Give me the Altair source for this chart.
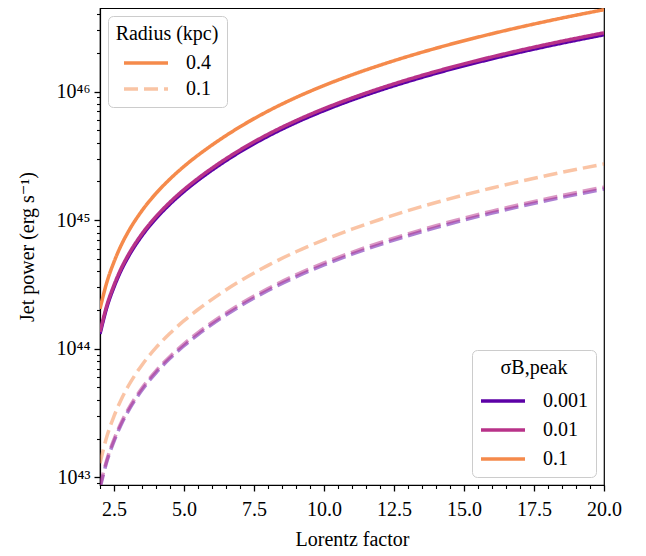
import altair as alt
import pandas as pd

# Lorentz factor grid (x values)
gamma = [2.0, 2.25, 2.5, 2.75, 3.0, 3.5, 4.0, 4.5, 5.0, 5.5, 6.0, 7.0, 8.0, 9.0, 10.0, 11.0, 12.0, 14.0, 16.0, 18.0, 20.0]

# log10 of jet power (erg s^-1)
r04_s01 = [44.31, 44.521, 44.675, 44.802, 44.906, 45.074, 45.208, 45.320, 45.418, 45.505, 45.584, 45.726, 45.848, 45.954, 46.047, 46.130, 46.205, 46.337, 46.450, 46.549, 46.637]
r04_s001 = [44.13, 44.341, 44.495, 44.622, 44.726, 44.894, 45.028, 45.140, 45.238, 45.325, 45.404, 45.546, 45.668, 45.774, 45.867, 45.950, 46.025, 46.157, 46.270, 46.369, 46.457]
r04_s0001 = [44.115, 44.326, 44.480, 44.607, 44.711, 44.879, 45.013, 45.125, 45.223, 45.310, 45.389, 45.531, 45.653, 45.759, 45.852, 45.935, 46.010, 46.142, 46.255, 46.354, 46.442]
r01_s01 = [43.11, 43.321, 43.475, 43.602, 43.706, 43.874, 44.008, 44.120, 44.218, 44.305, 44.384, 44.526, 44.648, 44.754, 44.847, 44.930, 45.005, 45.137, 45.250, 45.349, 45.437]
r01_s001 = [42.93, 43.141, 43.295, 43.422, 43.526, 43.694, 43.828, 43.940, 44.038, 44.125, 44.204, 44.346, 44.468, 44.574, 44.667, 44.750, 44.825, 44.957, 45.070, 45.169, 45.257]
r01_s0001 = [42.915, 43.126, 43.280, 43.407, 43.511, 43.679, 43.813, 43.925, 44.023, 44.110, 44.189, 44.331, 44.453, 44.559, 44.652, 44.735, 44.810, 44.942, 45.055, 45.154, 45.242]

sigma_labels = ["0.001", "0.01", "0.1"]
radius_labels = ["0.4", "0.1"]
sigma_colors = ["#5c01a6", "#b83289", "#f58a4b"]

x_major = [2.5, 5.0, 7.5, 10.0, 12.5, 15.0, 17.5, 20.0]
x_ticks = [2.0 + 0.5 * i for i in range(37)]
x_minor = [v for v in x_ticks if v not in x_major]
y_major = [1e43, 1e44, 1e45, 1e46]
y_major_labels = ["10⁴³", "10⁴⁴", "10⁴⁵", "10⁴⁶"]
y_minor = [k * 10.0 ** n for n in range(42, 47) for k in range(2, 10)]
y_minor = [v for v in y_minor if 10 ** 42.94 <= v <= 10 ** 46.65]

series = [
    ("0.4", "0.001", r04_s0001),
    ("0.4", "0.01", r04_s001),
    ("0.4", "0.1", r04_s01),
    ("0.1", "0.001", r01_s0001),
    ("0.1", "0.01", r01_s001),
    ("0.1", "0.1", r01_s01),
]
rows = []
for i, (rad, sig, vals) in enumerate(series):
    for g, v in zip(gamma, vals):
        rows.append({"gamma": g, "P": 10 ** v, "R": rad, "sigma": sig, "series": i})
df = pd.DataFrame(rows)

FONT = "'Liberation Serif', 'Times New Roman', 'DejaVu Serif', serif"
y_domain = [10 ** 42.94, 10 ** 46.65]

y_label_expr = " : ".join(
    f"datum.value < {v * 3:.0e} ? '{lab}'" for v, lab in zip(y_major[:-1], y_major_labels[:-1])
) + f" : '{y_major_labels[-1]}'"

xscale = alt.Scale(domain=[2, 20], nice=False, zero=False)
yscale = alt.Scale(type="log", domain=y_domain, nice=False)

radius_legend = alt.Legend(
    title="Radius (kpc)", orient="top-left", offset=8,
    symbolType="M-2,0H2", symbolSize=484, symbolStrokeWidth=3.5,
    symbolStrokeColor="#f58a4b", symbolOffset=10, labelOffset=27,
    rowPadding=3, titlePadding=6, padding=8,
    strokeColor="#cccccc", fillColor="white", cornerRadius=5,
    titleAnchor="middle",
)
sigma_legend = alt.Legend(
    title="σB,peak", orient="bottom-right", offset=8,
    symbolType="M-2,0H2", symbolSize=484, symbolStrokeWidth=3.5,
    symbolOffset=10, labelOffset=27, symbolOpacity=1,
    rowPadding=6, titlePadding=10, padding=8,
    strokeColor="#cccccc", fillColor="white", cornerRadius=5,
    titleAnchor="middle",
)

lines = alt.Chart(df).mark_line(strokeWidth=3.5, clip=True, interpolate="monotone").encode(
    x=alt.X("gamma:Q", scale=xscale, title="Lorentz factor",
            axis=alt.Axis(values=x_major, format=".1f", labelFlush=False, grid=False,
                          ticks=True, tickSize=6, tickColor="black", tickWidth=1.3,
                          labelPadding=8, titlePadding=10)),
    y=alt.Y("P:Q", scale=yscale, title="Jet power (erg s⁻¹)",
            axis=alt.Axis(values=y_major, labelExpr=y_label_expr, grid=False, titlePadding=19,
                          ticks=True, tickSize=6, tickColor="black", tickWidth=1.3,
                          labelPadding=4)),
    color=alt.Color("sigma:N", scale=alt.Scale(domain=sigma_labels, range=sigma_colors), legend=sigma_legend),
    strokeDash=alt.StrokeDash("R:N", scale=alt.Scale(domain=radius_labels, range=[[1, 0], [14, 6]]), legend=radius_legend),
    opacity=alt.Opacity("R:N", scale=alt.Scale(domain=radius_labels, range=[1.0, 0.5]), legend=radius_legend),
    detail="series:N",
)

# second, invisible layer that only carries the minor-tick axes
minor = alt.Chart(df).mark_point(opacity=0).encode(
    x=alt.X("gamma:Q", scale=xscale, title=None,
            axis=alt.Axis(values=x_minor, labels=False, ticks=True, tickSize=3.5, tickColor="black",
                          tickWidth=1.1, grid=False, domain=False, orient="bottom", title=None)),
    y=alt.Y("P:Q", scale=yscale, title=None,
            axis=alt.Axis(values=y_minor, labels=False, ticks=True, tickSize=3.5, tickColor="black",
                          tickWidth=1.1, grid=False, domain=False, orient="left", title=None)),
)

chart = alt.layer(lines, minor).resolve_axis(x="independent", y="independent").properties(
    width=504, height=477,
    autosize=alt.AutoSizeParams(type="none"),
    padding={"left": 92, "top": 0, "right": 34, "bottom": 70},
).configure_view(stroke="black", strokeWidth=1.2).configure_axis(
    labelFont=FONT, titleFont=FONT, labelFontSize=20, titleFontSize=20,
    titleFontWeight="normal", labelColor="black", titleColor="black",
    domainColor="black", domainWidth=1.2,
).configure_legend(
    labelFont=FONT, titleFont=FONT, labelFontSize=20, titleFontSize=20,
    titleFontWeight="normal", labelColor="black", titleColor="black",
)

chart.save("out.html", embed_options={"renderer": "svg", "actions": False})
